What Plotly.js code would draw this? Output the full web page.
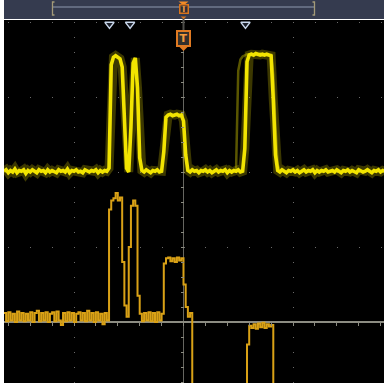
<!DOCTYPE html>
<html><head><meta charset="utf-8">
<script src="https://cdn.plot.ly/plotly-3.0.1.min.js"></script>
<style>html,body{margin:0;padding:0;background:#fff;overflow:hidden}#chart{width:386px;height:383px}</style>
</head><body><div id="chart"></div>
<script>
// Time in divisions relative to trigger, sampled uniformly
const timeStart = -1.64;
const timeStep = 0.02;
// Channel 1 (yellow), volts in divisions
const ch1 = [
2.01,2.03,1.99,2.02,2.00,2.04,1.99,2.02,2.01,2.03,
1.98,2.02,2.00,2.03,2.01,1.99,2.03,2.01,2.02,1.99,
2.03,2.00,2.02,2.01,1.99,2.03,2.01,2.02,2.00,2.04,
1.99,2.02,2.01,2.03,2.00,2.01,1.99,2.03,2.02,2.00,
2.02,2.01,2.03,1.99,2.02,2.00,2.02,2.01,2.05,3.43,
3.53,3.55,3.53,3.51,3.40,2.70,2.05,2.00,2.60,3.45,
3.52,3.12,2.19,2.02,2.00,2.03,2.01,1.99,2.02,2.01,
2.03,2.00,2.01,2.27,2.73,2.76,2.77,2.75,2.76,2.77,
2.75,2.76,2.68,2.23,2.02,2.00,2.03,2.01,2.02,1.99,
2.02,2.01,2.03,2.00,2.02,1.99,2.01,2.03,2.00,2.02,
2.01,2.03,1.99,2.02,2.00,2.02,2.01,2.03,2.00,2.01,
2.31,3.47,3.56,3.57,3.56,3.58,3.57,3.56,3.57,3.56,
3.57,3.56,3.55,2.96,2.23,2.02,2.00,2.03,2.01,1.99,
2.02,2.01,2.03,2.00,2.02,1.99,2.01,2.03,2.00,2.02,
2.01,2.03,1.99,2.02,2.00,2.02,2.01,2.03,2.00,2.01,
2.02,2.00,2.03,2.01,1.99,2.02,2.01,2.03,2.00,2.02,
2.01,1.99,2.03,2.02,2.00,2.01,2.03,2.01,1.99,2.02,
2.01,2.03,2.00,2.02,2.01];
// Persistence ghost of channel 1 around the last pulse
const ch1GhostStart = 0.44;
const ch1Ghost = [2.01,2.02,2.03,3.35,3.50,3.54,3.55,3.57,3.56,3.58,3.55,3.57,3.56,3.58,3.55,3.57,3.56,3.55,3.56,3.30,2.60,2.10,2.01];
// Channel 2 (amber)
const ch2 = [
0.12,0.01,0.13,0.02,0.11,0.00,0.14,0.02,0.12,0.01,
0.11,0.02,0.13,0.00,0.12,0.15,0.01,0.12,0.02,0.13,
0.00,0.11,0.13,0.01,0.14,0.02,-0.04,0.12,0.01,0.13,
0.02,0.12,0.00,0.11,0.13,0.02,0.12,0.01,0.15,0.02,
0.12,0.00,0.13,0.02,0.11,-0.03,0.12,0.02,1.50,1.62,
1.65,1.72,1.62,1.66,0.80,0.22,0.07,1.00,1.55,1.62,
1.55,0.35,0.11,0.01,0.12,0.02,0.13,0.01,0.12,0.00,
0.13,0.02,0.11,0.78,0.85,0.86,0.81,0.85,0.80,0.86,
0.82,0.85,0.50,0.20,0.07,0.12,-1.3,-1.3,-1.3,-1.3,
-1.3,-1.3,-1.3,-1.3,-1.3,-1.3,-1.3,-1.3,-1.3,-1.3,
-1.3,-1.3,-1.3,-1.3,-1.3,-1.3,-1.3,-1.3,-1.3,-1.3,
-1.3,-0.30,-0.05,-0.08,-0.03,-0.09,-0.02,-0.07,-0.01,-0.08,
-0.03,-0.06,-0.04,-1.3,-1.3,-1.3,-1.3,-1.3,-1.3,-1.3,
-1.3,-1.3,-1.3,-1.3,-1.3,-1.3,-1.3,-1.3,-1.3,-1.3,
-1.3,-1.3,-1.3,-1.3,-1.3,-1.3,-1.3,-1.3,-1.3,-1.3,
-1.3,-1.3,-1.3,-1.3,-1.3,-1.3,-1.3,-1.3,-1.3,-1.3,
-1.3,-1.3,-1.3,-1.3,-1.3,-1.3,-1.3,-1.3,-1.3,-1.3,
-1.3,-1.3,-1.3,-1.3,-1.3];
// Search marks (edge markers on top ruler)
const searchMarks = [-0.676, -0.488, 0.566];
const triggerTime = 0;

const xRange = [-1.6393, 1.8311];
const yRange = [-0.8133, 4.0267];
const tickCol = '#8a8a80';
const minorTicks = () => ({dtick:0.2, tick0:0, ticks:'outside', ticklen:3, tickcolor:tickCol, tickwidth:1, showgrid:false});

const traces = [
  {type:'scatter', mode:'lines', x0:timeStart, dx:timeStep, y:ch1, line:{color:'rgba(215,200,0,0.28)', width:9}, hoverinfo:'skip'},
  {type:'scatter', mode:'lines', x0:ch1GhostStart, dx:timeStep, y:ch1Ghost, line:{color:'rgba(200,190,0,0.45)', width:2.5}, hoverinfo:'skip'},
  {type:'scatter', mode:'lines', x0:timeStart, dx:timeStep, y:ch1, line:{color:'#f2e400', width:3.6}, hoverinfo:'skip'},
  {type:'scatter', mode:'lines', x0:timeStart, dx:timeStep, y:ch2, line:{color:'#d9a116', width:2, shape:'hv'}, hoverinfo:'skip'},
  {type:'scatter', mode:'markers', x:searchMarks, y:searchMarks.map(()=>0.988), yaxis:'y2', cliponaxis:false,
   marker:{symbol:'triangle-down', size:8, color:'#1c202a', line:{color:'#c8d6ea', width:1.5}}, hoverinfo:'skip'}
];

const layout = {
  width:386, height:383,
  margin:{l:4, r:2, t:20, b:0, pad:0},
  paper_bgcolor:'#ffffff', plot_bgcolor:'#000000',
  showlegend:false,
  xaxis:{range:xRange, anchor:'free', position:0.168, showgrid:true, gridcolor:'#6a6a6a', gridwidth:1,
    griddash:'0px,1.5px,1px,12.5px', dtick:1, tick0:0, zeroline:true, zerolinecolor:'#666660', zerolinewidth:1.2,
    ticks:'outside', ticklen:3, tickcolor:tickCol, minor:minorTicks(), showticklabels:false, showline:false, fixedrange:true},
  xaxis3:{range:xRange, overlaying:'x', side:'top', anchor:'free', position:0.168, showgrid:false, zeroline:false,
    ticks:'outside', ticklen:3, tickcolor:tickCol, dtick:1, tick0:0, minor:minorTicks(), showticklabels:false, showline:false},
  xaxis2:{range:xRange, overlaying:'x', side:'top', anchor:'y', showgrid:false, zeroline:false,
    showline:true, linecolor:'#a9bfdf', linewidth:2, ticks:'inside', ticklen:3, tickcolor:'#8b96a8', dtick:1, tick0:0,
    minor:{dtick:0.2, tick0:0, ticks:'inside', ticklen:3, tickcolor:'#8b96a8', showgrid:false}, showticklabels:false},
  yaxis:{range:yRange, anchor:'free', position:0.4724, showgrid:true, gridcolor:'#6a6a6a', gridwidth:1,
    griddash:'0px,4.3px,1px,16.6px', dtick:1, tick0:0, zeroline:true, zerolinecolor:'#8c8c82', zerolinewidth:1.2,
    ticks:'outside', ticklen:3, tickcolor:tickCol, minor:minorTicks(), showticklabels:false, showline:false, fixedrange:true},
  yaxis3:{range:yRange, overlaying:'y', side:'right', anchor:'free', position:0.4724, showgrid:false, zeroline:false,
    ticks:'outside', ticklen:3, tickcolor:tickCol, dtick:1, tick0:0, minor:minorTicks(), showticklabels:false, showline:false},
  yaxis2:{range:[0,1], overlaying:'y', visible:false},
  shapes:[
    {type:'rect', xref:'paper', yref:'paper', x0:0, x1:1, y0:1.003, y1:1.07, fillcolor:'#353b4f', line:{width:0}, layer:'above'},
    {type:'line', xref:'paper', yref:'paper', x0:0.1263, x1:0.8184, y0:1.0358, y1:1.0358, line:{color:'#8f9ab0', width:1}},
    {type:'path', xref:'paper', xsizemode:'pixel', xanchor:0.1263, yref:'paper', ysizemode:'pixel', yanchor:1,
      path:'M 2.5,18 L 0.5,18 L 0.5,5 L 2.5,5', line:{color:'#a39a78', width:1.3}},
    {type:'path', xref:'paper', xsizemode:'pixel', xanchor:0.8184, yref:'paper', ysizemode:'pixel', yanchor:1,
      path:'M -2.5,18 L -0.5,18 L -0.5,5 L -2.5,5', line:{color:'#a39a78', width:1.3}},
    {type:'line', xref:'x', xsizemode:'pixel', xanchor:triggerTime, x0:0, x1:0, yref:'paper', ysizemode:'pixel', yanchor:1,
      y0:3, y1:-10, line:{color:'#4e4e4a', width:2}},
    {type:'path', xref:'x', xsizemode:'pixel', xanchor:triggerTime, yref:'paper', ysizemode:'pixel', yanchor:1,
      path:'M -5,18.5 L 5,18.5 L 0,14.5 Z', fillcolor:'#f28c28', line:{width:0}},
    {type:'path', xref:'x', xsizemode:'pixel', xanchor:triggerTime, yref:'paper', ysizemode:'pixel', yanchor:1,
      path:'M -3,3.5 L 3,3.5 L 0,1 Z', fillcolor:'#d9741c', line:{width:0}},
    {type:'path', xref:'x', xsizemode:'pixel', xanchor:triggerTime, yref:'paper', ysizemode:'pixel', yanchor:1,
      path:'M -4.5,-26.5 L 4.5,-26.5 L 0,-31 Z', fillcolor:'#e07a22', line:{width:0}}
  ],
  annotations:[
    {xref:'x', x:triggerTime, yref:'paper', y:0.9504, xanchor:'center', yanchor:'middle', text:'<b>T</b>', showarrow:false,
      font:{family:'DejaVu Sans', size:11, color:'#f39a3c'}, bgcolor:'#33302c', bordercolor:'#e07a22',
      borderwidth:2, borderpad:1, width:9, height:11},
    {xref:'x', x:triggerTime, yref:'paper', y:1.0303, xanchor:'center', yanchor:'middle', text:'<b>T</b>', showarrow:false,
      font:{family:'DejaVu Sans', size:8, color:'#f39a3c'}, bgcolor:'#2c2f38', bordercolor:'#d9741c',
      borderwidth:1.5, borderpad:0.5, width:6, height:6}
  ]
};

Plotly.newPlot('chart', traces, layout, {staticPlot:true, displayModeBar:false});
</script>
</body></html>
